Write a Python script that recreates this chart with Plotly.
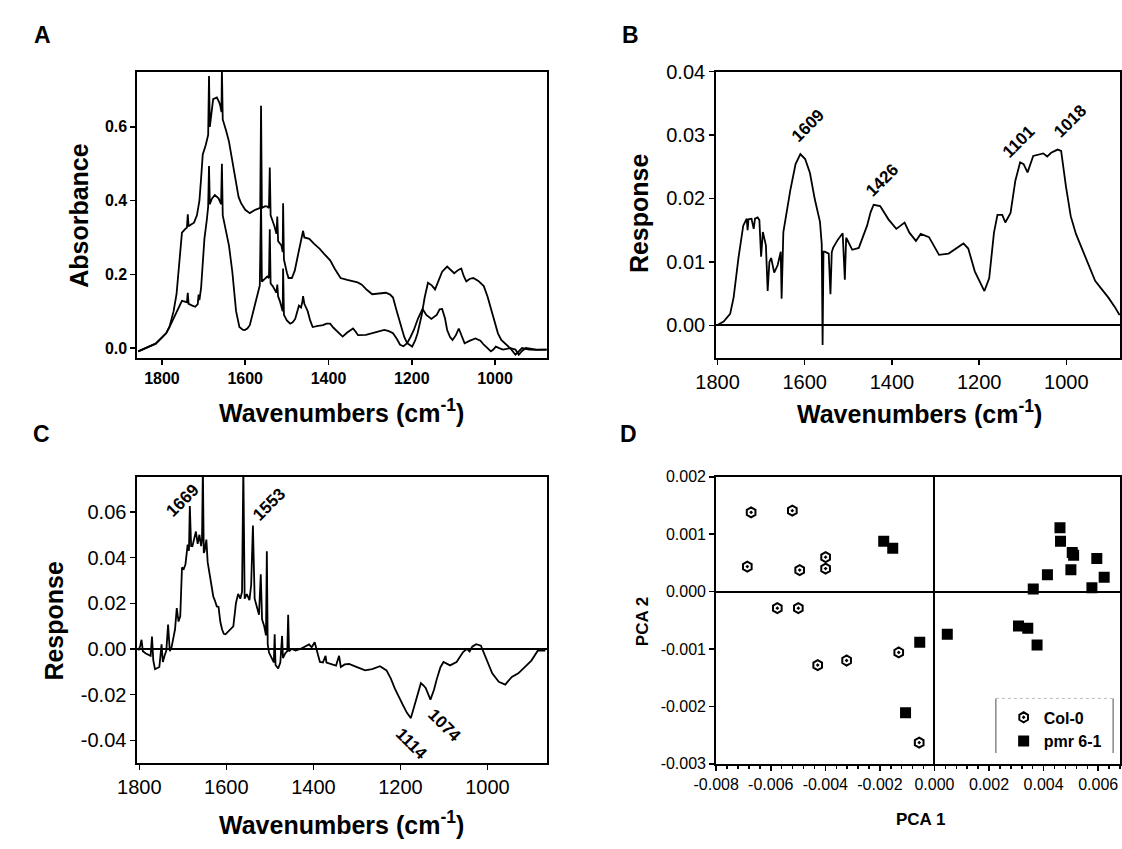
import plotly.graph_objects as go

# ---------------- Panel A: absorbance spectra ----------------
a_upper_wn = [1857, 1845, 1832, 1815, 1798, 1790, 1782, 1772, 1765, 1758, 1752, 1745, 1740, 1738, 1736, 1730,
              1723, 1716, 1710, 1706, 1702, 1695, 1689, 1687, 1685, 1677, 1668, 1662, 1660, 1657, 1656, 1654,
              1652, 1646, 1639, 1630, 1622, 1616, 1610, 1600, 1589, 1576, 1564, 1562, 1560, 1552, 1547, 1543,
              1541, 1539, 1530, 1525, 1523, 1521, 1513, 1510, 1509, 1507, 1500, 1496, 1488, 1481, 1475, 1468,
              1463, 1461, 1458, 1446, 1435, 1421, 1410, 1396, 1385, 1371, 1355, 1341, 1330, 1320, 1308, 1295,
              1280, 1262, 1252, 1245, 1236, 1228, 1218, 1211, 1199, 1192, 1186, 1176, 1169, 1161, 1152, 1144,
              1135, 1127, 1115, 1106, 1098, 1088, 1081, 1075, 1069, 1060, 1052, 1040, 1027, 1018, 1010, 1000,
              993, 985, 976, 964, 951, 943, 935, 926, 918, 900, 876]
a_upper_abs = [-0.009, -0.003, 0.004, 0.012, 0.031, 0.040, 0.057, 0.10, 0.146, 0.23, 0.313, 0.322, 0.327, 0.363,
               0.330, 0.335, 0.340, 0.36, 0.40, 0.46, 0.525, 0.55, 0.578, 0.738, 0.60, 0.675, 0.680, 0.665, 0.658,
               0.64, 0.76, 0.62, 0.613, 0.59, 0.56, 0.50, 0.446, 0.41, 0.393, 0.375, 0.366, 0.375, 0.38, 0.657,
               0.38, 0.385, 0.384, 0.38, 0.49, 0.36, 0.331, 0.31, 0.357, 0.29, 0.278, 0.26, 0.393, 0.24, 0.205,
               0.19, 0.19, 0.21, 0.243, 0.28, 0.304, 0.318, 0.30, 0.296, 0.283, 0.269, 0.255, 0.238, 0.215, 0.19,
               0.185, 0.181, 0.178, 0.172, 0.158, 0.146, 0.147, 0.150, 0.145, 0.137, 0.10, 0.066, 0.03, 0.013,
               0.004, 0.02, 0.04, 0.09, 0.137, 0.177, 0.170, 0.159, 0.185, 0.207, 0.221, 0.212, 0.203, 0.212,
               0.216, 0.195, 0.181, 0.188, 0.19, 0.182, 0.168, 0.14, 0.11, 0.07, 0.04, 0.022, 0.013, 0.0, -0.018,
               -0.008, 0.0, -0.002, -0.004, -0.005, -0.004]

a_lower_wn = [1857, 1845, 1832, 1815, 1798, 1790, 1782, 1772, 1765, 1758, 1752, 1745, 1740, 1738, 1736, 1727,
              1720, 1714, 1712, 1710, 1706, 1702, 1698, 1692, 1689, 1687, 1685, 1680, 1673, 1664, 1658, 1656,
              1654, 1652, 1645, 1639, 1631, 1622, 1614, 1606, 1601, 1595, 1589, 1580, 1572, 1565, 1562, 1560,
              1547, 1543, 1541, 1539, 1534, 1525, 1523, 1521, 1517, 1510, 1509, 1507, 1500, 1492, 1486, 1480,
              1471, 1466, 1463, 1461, 1458, 1450, 1444, 1438, 1425, 1413, 1405, 1396, 1388, 1379, 1366, 1355,
              1341, 1335, 1329, 1310, 1295, 1280, 1266, 1255, 1245, 1236, 1228, 1220, 1211, 1203, 1195, 1185,
              1174, 1165, 1153, 1140, 1133, 1127, 1120, 1115, 1108, 1102, 1094, 1087, 1080, 1073, 1060, 1047,
              1035, 1027, 1018, 1010, 1004, 998, 990, 981, 972, 964, 957, 951, 943, 935, 926, 915, 900, 876]
a_lower_abs = [-0.009, -0.003, 0.004, 0.012, 0.031, 0.040, 0.057, 0.08, 0.10, 0.115, 0.128, 0.126, 0.124, 0.15,
               0.12, 0.115, 0.112, 0.119, 0.145, 0.13, 0.163, 0.23, 0.296, 0.35, 0.384, 0.494, 0.39, 0.405, 0.415,
               0.406, 0.39, 0.50, 0.36, 0.349, 0.31, 0.278, 0.207, 0.10, 0.057, 0.05, 0.049, 0.053, 0.062, 0.10,
               0.137, 0.17, 0.40, 0.18, 0.194, 0.19, 0.322, 0.175, 0.168, 0.15, 0.172, 0.14, 0.128, 0.10, 0.216,
               0.09, 0.075, 0.066, 0.07, 0.079, 0.115, 0.11, 0.124, 0.141, 0.12, 0.10, 0.075, 0.057, 0.06, 0.062,
               0.066, 0.066, 0.055, 0.044, 0.031, 0.042, 0.053, 0.045, 0.035, 0.036, 0.04, 0.046, 0.049, 0.046,
               0.04, 0.025, 0.009, 0.005, 0.013, 0.03, 0.049, 0.08, 0.106, 0.09, 0.079, 0.09, 0.105, 0.106, 0.08,
               0.049, 0.03, 0.022, 0.035, 0.053, 0.035, 0.013, 0.02, 0.026, 0.02, 0.009, 0.0, -0.009, -0.004,
               0.004, 0.0, -0.004, -0.002, 0.0, -0.002, -0.004, -0.018, -0.008, 0.0, -0.002, -0.004, -0.004]

# ---------------- Panel B: response spectrum ----------------
b_wn = [1801, 1786, 1771, 1763, 1752, 1741, 1733, 1731, 1729, 1722, 1717, 1714, 1708, 1704, 1700, 1696, 1689,
        1685, 1681, 1677, 1670, 1662, 1655, 1653, 1649, 1640, 1633, 1621, 1610, 1599, 1588, 1577, 1565, 1561,
        1559, 1557, 1554, 1545, 1541, 1538, 1535, 1524, 1513, 1508, 1505, 1502, 1491, 1476, 1464, 1457, 1449,
        1442, 1427, 1408, 1390, 1371, 1360, 1345, 1334, 1315, 1292, 1270, 1236, 1225, 1210, 1188, 1177, 1166,
        1158, 1147, 1140, 1128, 1117, 1106, 1098, 1089, 1076, 1061, 1053, 1044, 1035, 1020, 1012, 1001, 990,
        978, 964, 949, 934, 919, 904, 889, 878]
b_resp = [0.0000, 0.0006, 0.0018, 0.0044, 0.0106, 0.0157, 0.0168, 0.0150, 0.0167, 0.0168, 0.0152, 0.0168,
          0.0170, 0.0166, 0.0108, 0.0147, 0.0126, 0.0054, 0.0100, 0.0106, 0.0083, 0.0095, 0.0116, 0.0042,
          0.0147, 0.0185, 0.0213, 0.0254, 0.0270, 0.0262, 0.0240, 0.0199, 0.0163, 0.0128, -0.0031, 0.0116,
          0.0116, 0.0113, 0.0049, 0.0115, 0.0122, 0.0135, 0.0145, 0.0072, 0.0138, 0.0134, 0.0119, 0.0122,
          0.0146, 0.0157, 0.0178, 0.0190, 0.0188, 0.0167, 0.0152, 0.0162, 0.0146, 0.0133, 0.0144, 0.0139,
          0.0111, 0.0113, 0.0129, 0.0121, 0.0085, 0.0054, 0.0074, 0.0146, 0.0174, 0.0174, 0.0162, 0.0177,
          0.0228, 0.0257, 0.0254, 0.0241, 0.0267, 0.0270, 0.0271, 0.0266, 0.0272, 0.0277, 0.0275, 0.0219,
          0.0172, 0.0144, 0.0121, 0.0095, 0.0070, 0.0057, 0.0044, 0.0029, 0.0016]
b_peak_labels = ["1609", "1426", "1101", "1018"]
b_peak_x = [1592, 1423, 1109, 992]
b_peak_y = [0.0315, 0.0229, 0.0290, 0.0322]

# ---------------- Panel C: response spectrum ----------------
c_wn = [1802, 1798, 1795, 1792, 1785, 1780, 1774, 1771, 1768, 1764, 1758, 1754, 1749, 1746, 1742, 1738, 1734,
        1730, 1726, 1722, 1718, 1714, 1710, 1706, 1704, 1702, 1698, 1694, 1689, 1686, 1684, 1681, 1678, 1674,
        1670, 1666, 1662, 1658, 1656, 1654, 1652, 1650, 1646, 1643, 1638, 1634, 1630, 1626, 1622, 1618, 1614,
        1610, 1606, 1602, 1596, 1590, 1584, 1578, 1573, 1568, 1564, 1561, 1558, 1553, 1547, 1543, 1539, 1535,
        1530, 1525, 1521, 1518, 1513, 1509, 1507, 1505, 1502, 1496, 1491, 1489, 1487, 1481, 1476, 1472, 1470,
        1465, 1460, 1458, 1456, 1450, 1441, 1430, 1417, 1410, 1404, 1397, 1393, 1385, 1378, 1372, 1370, 1361,
        1352, 1348, 1341, 1337, 1328, 1318, 1300, 1281, 1265, 1247, 1232, 1222, 1213, 1204, 1195, 1185, 1176,
        1169, 1160, 1153, 1147, 1142, 1131, 1123, 1116, 1108, 1101, 1086, 1071, 1062, 1056, 1047, 1041, 1035,
        1026, 1015, 1004, 996, 989, 974, 959, 952, 944, 929, 910, 899, 884, 867]
c_resp = [-0.0007, 0.0014, 0.0040, -0.0010, -0.0020, -0.0025, -0.0030, 0.0054, -0.0050, -0.0089, -0.0085,
          -0.0079, 0.0020, -0.0057, -0.0030, -0.0007, 0.0107, -0.0010, 0.0007, 0.0040, 0.0086, 0.0179, 0.0120,
          0.0143, 0.0250, 0.0357, 0.0350, 0.0371, 0.0457, 0.0430, 0.0626, 0.0450, 0.0450, 0.0490, 0.0514,
          0.0460, 0.0500, 0.0450, 0.0480, 0.0800, 0.0420, 0.0429, 0.0479, 0.0380, 0.0314, 0.0270, 0.0229,
          0.0210, 0.0186, 0.0184, 0.0120, 0.0086, 0.0066, 0.0064, 0.0075, 0.0086, 0.0099, 0.0200, 0.0241,
          0.0220, 0.0250, 0.0800, 0.0220, 0.0240, 0.0214, 0.0280, 0.0540, 0.0220, 0.0180, 0.0150, 0.0327,
          0.0130, 0.0099, 0.0060, 0.0428, 0.0020, -0.0016, -0.0040, -0.0059, 0.0064, -0.0070, -0.0086, -0.0060,
          0.0057, -0.0040, -0.0020, -0.0010, 0.0150, -0.0010, 0.0000, -0.0007, 0.0000, 0.0014, 0.0020, 0.0007,
          0.0029, 0.0000, -0.0057, -0.0059, -0.0030, -0.0060, -0.0064, -0.0068, -0.0073, -0.0030, -0.0079,
          -0.0068, -0.0066, -0.0080, -0.0094, -0.0088, -0.0076, -0.0094, -0.0130, -0.0173, -0.0210, -0.0243,
          -0.0280, -0.0303, -0.0257, -0.0190, -0.0150, -0.0160, -0.0171, -0.0222, -0.0180, -0.0129, -0.0080,
          -0.0057, -0.0072, -0.0057, -0.0030, -0.0014, 0.0000, -0.0011, 0.0010, 0.0021, 0.0014, -0.0036,
          -0.0070, -0.0107, -0.0144, -0.0156, -0.0140, -0.0123, -0.0107, -0.0072, -0.0051, -0.0007, -0.0007]
c_peak_labels = ["1669", "1553", "1114", "1074"]
c_peak_x = [1700, 1502, 1176, 1099]
c_peak_y = [0.0648, 0.0634, -0.0416, -0.0337]
c_peak_angle = [-45, -45, 45, 45]

# ---------------- Panel D: PCA scores ----------------
col0_pc1 = [-0.00672, -0.00521, -0.00686, -0.00399, -0.00399, -0.00494, -0.00576, -0.00499, -0.00428,
            -0.00322, -0.00131, -0.00056]
col0_pc2 = [0.00138, 0.00141, 0.000436, 0.00060, 0.00040, 0.000374, -0.000289, -0.000289, -0.00128,
            -0.00120, -0.00106, -0.00263]
pmr_pc1 = [-0.00186, -0.00153, -0.00054, -0.00106, 0.00047, 0.00460, 0.00462, 0.00505, 0.00510, 0.00595,
           0.00414, 0.00500, 0.00622, 0.00362, 0.00577, 0.00308, 0.00342, 0.00376]
pmr_pc2 = [0.000878, 0.000754, -0.000884, -0.00211, -0.000742, 0.00111, 0.000878, 0.00068, 0.000635,
           0.000578, 0.000295, 0.00038, 0.000249, 0.000045, 0.000068, -0.00060, -0.00064, -0.00093]

wn_ticks = [1800, 1600, 1400, 1200, 1000]
a_yticks = [0.0, 0.2, 0.4, 0.6]
b_yticks = [0.00, 0.01, 0.02, 0.03, 0.04]
c_yticks = [-0.04, -0.02, 0.00, 0.02, 0.04, 0.06]
d_xticks = [-0.008, -0.006, -0.004, -0.002, 0.000, 0.002, 0.004, 0.006]
d_yticks = [-0.003, -0.002, -0.001, 0.000, 0.001, 0.002]

W, H = 1122, 849
FONT = "Liberation Sans, Arial, sans-serif"
LINE = dict(color="black", width=1.8)

def px_x(p):
    return p / W

def px_y(p):
    return 1 - p / H

def fmt(v, nd):
    s = f"{v:.{nd}f}"
    if s.startswith("-") and float(s) == 0:
        s = s[1:]
    return s

fig = go.Figure()
fig.add_trace(go.Scatter(x=a_upper_wn, y=a_upper_abs, mode="lines", line=LINE, xaxis="x", yaxis="y", showlegend=False))
fig.add_trace(go.Scatter(x=a_lower_wn, y=a_lower_abs, mode="lines", line=LINE, xaxis="x", yaxis="y", showlegend=False))
fig.add_trace(go.Scatter(x=b_wn, y=b_resp, mode="lines", line=LINE, xaxis="x2", yaxis="y2", showlegend=False))
fig.add_trace(go.Scatter(x=c_wn, y=c_resp, mode="lines", line=LINE, xaxis="x3", yaxis="y3", showlegend=False))
fig.add_trace(go.Scatter(x=col0_pc1, y=col0_pc2, mode="markers", name="Col-0", xaxis="x4", yaxis="y4",
                         marker=dict(symbol="hexagon-open-dot", size=10, color="black", line=dict(width=2, color="black"))))
fig.add_trace(go.Scatter(x=pmr_pc1, y=pmr_pc2, mode="markers", name="pmr 6-1", xaxis="x4", yaxis="y4",
                         marker=dict(symbol="square", size=11, color="black")))

common_axis = dict(showline=True, linecolor="black", linewidth=2, mirror=True, ticks="outside", ticklen=5,
                   tickwidth=1.5, tickcolor="black", showgrid=False, zeroline=False)

bold_tick = dict(family=FONT, size=16, color="black", weight="bold")
reg_tick = dict(family=FONT, size=20, color="black")
d_tick = dict(family=FONT, size=16, color="black")

domA_x = [px_x(117), px_x(536)]
domB_x = [px_x(709), 1.0]
dom_top_y = [px_y(355), px_y(62)]

fig.update_layout(
    width=W, height=H, margin=dict(l=0, r=0, t=0, b=0),
    paper_bgcolor="white", plot_bgcolor="white",
    font=dict(family=FONT, color="black"),
    hovermode=False,
    xaxis=dict(common_axis, domain=domA_x, anchor="y", range=[1859, 875], tickvals=wn_ticks,
               ticktext=[str(v) for v in wn_ticks], tickfont=bold_tick),
    yaxis=dict(common_axis, domain=dom_top_y, anchor="x", range=[-0.026, 0.75], tickvals=a_yticks,
               ticktext=[fmt(v, 1) for v in a_yticks], tickfont=bold_tick),
    xaxis2=dict(common_axis, domain=domB_x, anchor="y2", range=[1803, 877], tickvals=wn_ticks,
                ticktext=[str(v) for v in wn_ticks], tickfont=reg_tick),
    yaxis2=dict(common_axis, domain=dom_top_y, anchor="x2", range=[-0.0051, 0.04], tickvals=b_yticks,
                ticktext=[fmt(v, 2) for v in b_yticks], tickfont=reg_tick,
                zeroline=True, zerolinecolor="black", zerolinewidth=2),
    xaxis3=dict(common_axis, domain=domA_x, anchor="y3", range=[1804.5, 863], tickvals=wn_ticks,
                ticktext=[str(v) for v in wn_ticks], tickfont=reg_tick),
    yaxis3=dict(common_axis, domain=[px_y(770), px_y(477)], anchor="x3", range=[-0.0499, 0.0754],
                tickvals=c_yticks, ticktext=[fmt(v, 2) for v in c_yticks], tickfont=reg_tick,
                zeroline=True, zerolinecolor="black", zerolinewidth=2),
    xaxis4=dict(common_axis, domain=domB_x, anchor="y4", range=[-0.008, 0.0068], tickvals=d_xticks,
                ticktext=[fmt(v, 3) for v in d_xticks], tickfont=d_tick,
                zeroline=True, zerolinecolor="black", zerolinewidth=2,
                minor=dict(ticks="outside", ticklen=3, tickcolor="black", dtick=0.0004, tick0=0)),
    yaxis4=dict(common_axis, domain=[px_y(771), px_y(477)], anchor="x4", range=[-0.003, 0.002],
                tickvals=d_yticks, ticktext=[fmt(v, 3) for v in d_yticks], tickfont=d_tick,
                zeroline=True, zerolinecolor="black", zerolinewidth=2),
    legend=dict(x=px_x(1003), y=px_y(706), xanchor="left", yanchor="top", bgcolor="rgba(0,0,0,0)",
                font=dict(family=FONT, size=16, color="black", weight="bold"), tracegroupgap=2,
                itemwidth=30),
)

title_font = dict(family=FONT, size=25, color="black", weight="bold")
d_title_font = dict(family=FONT, size=17, color="black", weight="bold")
letter_font = dict(family=FONT, size=23, color="black", weight="bold")

ann = []
def paper_text(text, x, y, font, angle=0):
    ann.append(dict(text=text, x=px_x(x), y=px_y(y), xref="paper", yref="paper", showarrow=False,
                    xanchor="center", yanchor="middle", font=font, textangle=angle))

wav = "Wavenumbers (cm<sup>-1</sup>)"
paper_text(wav, 326, 410, title_font)
paper_text("Absorbance", 57, 209, title_font, -90)
paper_text(wav, 917, 411, title_font)
paper_text("Response", 630, 207, title_font, -90)
paper_text(wav, 326, 832, title_font)
paper_text("Response", 32, 624, title_font, -90)
paper_text("PCA 1", 918, 828, d_title_font)
paper_text("PCA 2", 633, 625, d_title_font, -90)
paper_text("A", 20, 25, letter_font)
paper_text("B", 621, 25, letter_font)
paper_text("C", 19, 433, letter_font)
paper_text("D", 619, 433, letter_font)

peak_font = dict(family=FONT, size=17, color="black", weight="bold")
for lab, xv, yv in zip(b_peak_labels, b_peak_x, b_peak_y):
    ann.append(dict(text=lab, x=xv, y=yv, xref="x2", yref="y2", showarrow=False, textangle=-45,
                    xanchor="center", yanchor="middle", font=peak_font))
for lab, xv, yv, ang in zip(c_peak_labels, c_peak_x, c_peak_y, c_peak_angle):
    ann.append(dict(text=lab, x=xv, y=yv, xref="x3", yref="y3", showarrow=False, textangle=ang,
                    xanchor="center", yanchor="middle", font=peak_font))

fig.update_layout(annotations=ann)

# legend frame (side rules) for panel D
shapes = [
    dict(type="line", xref="paper", yref="paper", x0=px_x(995), x1=px_x(995), y0=px_y(704), y1=px_y(760),
         line=dict(color="#888888", width=1.5)),
    dict(type="line", xref="paper", yref="paper", x0=px_x(1115), x1=px_x(1115), y0=px_y(704), y1=px_y(760),
         line=dict(color="#888888", width=1.5)),
    dict(type="line", xref="paper", yref="paper", x0=px_x(995), x1=px_x(1115), y0=px_y(704), y1=px_y(704),
         line=dict(color="#bbbbbb", width=1, dash="dot")),
]
fig.update_layout(shapes=shapes)

fig.write_html("out.html", config={"displayModeBar": False, "staticPlot": True},
               post_script="document.body.style.margin='0px';document.body.style.overflow='hidden';")
